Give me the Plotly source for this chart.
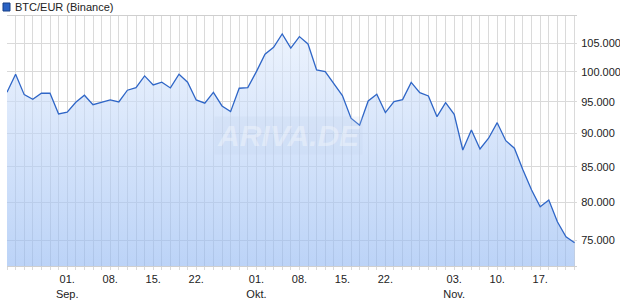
import math
import plotly.graph_objects as go
import pandas as pd

# Weekday closing values, BTC/EUR (Binance), 21 Aug 2025 - 21 Nov 2025
dates = [d.strftime("%Y-%m-%d") for d in pd.bdate_range("2025-08-21", "2025-11-21")]
prices = [
    96560, 99580, 96160, 95410, 96390, 96390, 93040, 93310, 94920, 96060,
    94530, 94970, 95290, 94970, 96890, 97320, 99290, 97770, 98220, 97270,
    99580, 98220, 95290, 94760, 96520, 94320, 93410, 97220, 97320, 100020,
    103040, 104280, 106680, 104110, 106190, 104870, 100310, 100020, 97890, 96000,
    92360, 91260, 95130, 96230, 93250, 95020, 95340, 98190, 96490, 95950,
    92610, 94850, 92990, 87480, 90530, 87630, 89250, 91660, 88880, 87740,
    84540, 81700, 79390, 80310, 77380, 75420, 74650,
]
tick_dates = ["2025-09-01", "2025-09-08", "2025-09-15", "2025-09-22",
              "2025-10-01", "2025-10-08", "2025-10-15", "2025-10-22",
              "2025-11-03", "2025-11-10", "2025-11-17"]
tick_labels = ["01.<br>Sep.", "08.", "15.", "22.",
               "01.<br>Okt.", "08.", "15.", "22.",
               "03.<br>Nov.", "10.", "17."]
y_ticks = [75000, 80000, 85000, 90000, 95000, 100000, 105000, 110000]
y_tick_labels = [f"{v:,}".replace(",", ".") if v < 110000 else "" for v in y_ticks]
series_name = "BTC/EUR (Binance)"

Y_MIN, Y_MAX = 71740, 110000
idx = list(range(len(prices)))
tick_idx = [dates.index(d) for d in tick_dates]

FONT = "Liberation Sans, Arial, sans-serif"
GRID = "#dadada"

fig = go.Figure()
fig.add_trace(go.Scatter(
    x=idx, y=prices, customdata=dates, mode="lines", name=series_name,
    line=dict(color="#2f66c7", width=1.3),
    fill="tozeroy",
    fillgradient=dict(type="vertical",
                      colorscale=[[0, "rgba(143,182,242,0.6)"], [1, "rgba(230,239,253,0.6)"]],
                      start=Y_MIN, stop=Y_MAX),
    hovertemplate="%{customdata}: %{y}<extra></extra>",
    showlegend=False,
))

fig.update_layout(
    width=620, height=300,
    margin=dict(l=7, r=43, t=16, b=34, autoexpand=False),
    paper_bgcolor="white", plot_bgcolor="white",
    font=dict(family=FONT, size=11, color="#222"),
    showlegend=False,
    xaxis=dict(
        range=[0, len(prices) - 0.72],
        tickmode="array", tickvals=tick_idx, ticktext=tick_labels,
        showgrid=True, gridcolor=GRID, gridwidth=1,
        ticks="outside", ticklen=3, tickcolor=GRID,
        minor=dict(tickmode="array", tickvals=idx, showgrid=True, gridcolor=GRID,
                   ticks="outside", ticklen=3, tickcolor=GRID),
        showline=True, linecolor="#cfcfcf", mirror=True,
        zeroline=False, automargin=False, tickfont=dict(size=11, color="#222"),
    ),
    yaxis=dict(
        type="log", side="right",
        range=[math.log10(Y_MIN), math.log10(Y_MAX)],
        tickmode="array", tickvals=y_ticks, ticktext=y_tick_labels,
        showgrid=True, gridcolor=GRID, gridwidth=1,
        ticks="outside", ticklen=1, tickcolor="white",
        showline=False, zeroline=False, automargin=False,
        tickfont=dict(size=11, color="#222"),
    ),
    shapes=[dict(type="rect", xref="paper", yref="paper",
                 xsizemode="pixel", ysizemode="pixel", xanchor=0, yanchor=1,
                 x0=-4, x1=3, y0=5, y1=13,
                 fillcolor="#2a62c4", line=dict(color="#173f86", width=1))],
    annotations=[
        dict(text=series_name, xref="paper", yref="paper", x=0, y=1,
             xanchor="left", yanchor="bottom", xshift=6, yshift=1, showarrow=False,
             font=dict(size=11, color="#222")),
        dict(text="<b><i>ARIVA.DE</i></b>", xref="paper", yref="paper", x=0.493, y=0.524,
             xanchor="center", yanchor="middle", showarrow=False,
             font=dict(size=30, color="rgba(255,255,255,0.35)"),
             bgcolor="rgba(190,205,235,0.18)", borderpad=2),
    ],
)

fig.write_html("out.html")
